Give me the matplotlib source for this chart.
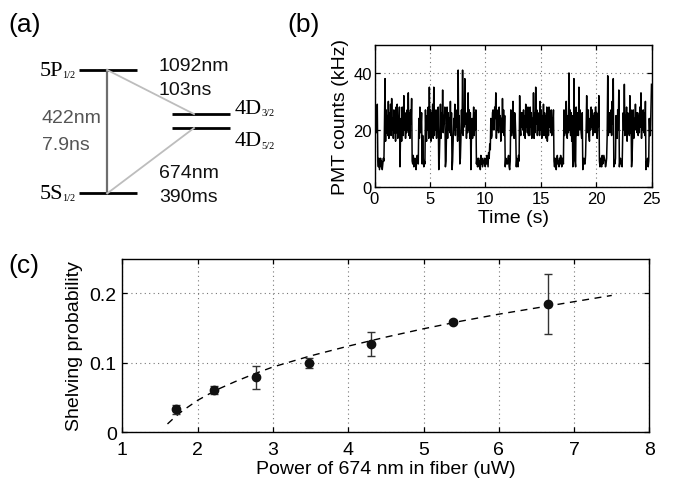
import numpy as np
import matplotlib
matplotlib.use("Agg")
import matplotlib.pyplot as plt

# ---- panel (a): level scheme (energy in arbitrary units) ----
level_names = ["5S", "5P", "4D", "4D"]
level_subs = ["1/2", "1/2", "5/2", "3/2"]
level_energy = [0.0, 1.0, 0.53, 0.643]
level_column = [0, 0, 1, 1]

# ---- panel (b): PMT trace, sampled every 0.05 s (one row per second) ----
trace_dt = 0.05
pmt_counts = [
    17, 27, 21, 26, 19, 29, 9, 7, 10, 6, 8, 10, 7, 9, 6, 8, 10, 9, 22, 38,
    16, 27, 19, 25, 18, 30, 17, 26, 21, 29, 18, 31, 20, 24, 17, 27, 19, 25, 16, 28,
    19, 29, 17, 24, 21, 28, 7, 18, 24, 16, 28, 21, 18, 32, 20, 26, 17, 25, 19, 27,
    20, 33, 18, 26, 17, 27, 22, 31, 9, 8, 11, 7, 9, 10, 8, 6, 9, 11, 10, 8,
    24, 17, 28, 19, 21, 26, 8, 18, 10, 7, 9, 8, 27, 18, 16, 25, 20, 28, 17, 35,
    19, 27, 16, 26, 21, 29, 17, 35, 18, 24, 20, 27, 17, 25, 20, 28, 6, 10, 18, 29,
    17, 26, 21, 34, 19, 25, 22, 28, 7, 9, 18, 28, 17, 26, 20, 24, 19, 30, 18, 26,
    6, 9, 17, 24, 20, 29, 18, 26, 21, 27, 16, 41, 18, 25, 8, 10, 17, 27, 19, 41,
    18, 27, 21, 38, 22, 26, 17, 25, 19, 33, 20, 27, 17, 26, 6, 18, 24, 17, 21, 28,
    18, 26, 20, 27, 8, 10, 7, 9, 10, 7, 9, 6, 11, 8, 10, 7, 8, 9, 10, 8,
    7, 10, 8, 11, 9, 7, 12, 10, 15, 13, 24, 17, 18, 26, 27, 20, 20, 28, 24, 33,
    17, 26, 20, 27, 19, 28, 22, 25, 16, 24, 19, 31, 20, 27, 18, 25, 7, 10, 9, 8,
    8, 10, 11, 7, 6, 9, 27, 18, 18, 25, 30, 19, 17, 26, 24, 18, 7, 10, 9, 7,
    11, 9, 32, 20, 18, 26, 21, 26, 20, 27, 18, 25, 17, 29, 21, 26, 19, 28, 18, 26,
    18, 28, 21, 26, 17, 24, 20, 33, 17, 26, 19, 35, 22, 27, 18, 26, 20, 25, 18, 30,
    20, 27, 17, 25, 19, 29, 18, 26, 19, 25, 17, 28, 16, 24, 18, 28, 21, 26, 19, 27,
    18, 24, 21, 27, 9, 7, 10, 8, 6, 9, 11, 8, 9, 7, 10, 8, 11, 9, 7, 10,
    9, 8, 27, 18, 24, 19, 30, 20, 17, 25, 19, 40, 20, 27, 18, 26, 16, 25, 7, 9,
    38, 19, 9, 7, 28, 18, 21, 26, 18, 35, 20, 27, 25, 19, 17, 26, 6, 9, 10, 8,
    8, 11, 20, 32, 19, 25, 27, 18, 16, 24, 20, 28, 21, 27, 18, 25, 20, 26, 19, 28,
    20, 26, 17, 24, 21, 32, 9, 7, 10, 8, 7, 11, 8, 9, 11, 10, 9, 7, 8, 10,
    18, 39, 18, 25, 26, 19, 20, 27, 18, 30, 22, 38, 7, 9, 8, 10, 25, 18, 17, 27,
    20, 34, 7, 9, 10, 8, 9, 7, 18, 26, 20, 36, 18, 25, 21, 28, 16, 26, 19, 25,
    18, 32, 19, 27, 7, 10, 18, 27, 17, 24, 20, 29, 20, 26, 19, 26, 18, 25, 19, 28,
    21, 33, 17, 25, 20, 27, 19, 26, 18, 30, 6, 9, 8, 10, 7, 9, 24, 18, 18, 27,
    36,
]

# ---- panel (c): shelving probability vs power ----
power = [1.71, 2.22, 2.77, 3.48, 4.30, 5.39, 6.65]
shelving = [0.0335, 0.061, 0.079, 0.0997, 0.127, 0.159, 0.184]
shelving_err = [0.0065, 0.0055, 0.0163, 0.0077, 0.0168, 0.002, 0.0432]
fit_power = [1.6, 1.7, 1.8, 2.0, 2.25, 2.5, 2.75, 3.0, 3.5, 4.0, 4.5, 5.0, 5.5, 6.0, 6.5, 7.0, 7.5]
fit_shelving = [0.012, 0.022, 0.031, 0.046, 0.061, 0.073, 0.084, 0.094, 0.110, 0.124,
                0.137, 0.149, 0.160, 0.170, 0.179, 0.188, 0.197]

plt.rcParams['font.family'] = ['Liberation Sans', 'DejaVu Sans']
plt.rcParams['xtick.direction'] = 'in'
plt.rcParams['ytick.direction'] = 'in'
plt.rcParams['xtick.top'] = True
plt.rcParams['ytick.right'] = True
plt.rcParams['axes.linewidth'] = 1.0

W, H = 676, 485
fig = plt.figure(figsize=(W / 100, H / 100), dpi=100)


def matlab_grid(ax):
    ax.grid(True, linestyle=(0, (1, 3)), color='#777777', linewidth=0.8)
    ax.set_axisbelow(True)
    ax.tick_params(length=3.5, width=0.9)


# ---------------- (a) ----------------
axA = fig.add_axes([0, 0.523, 300 / W, 0.4068])
axA.set_xlim(0, 300)
axA.set_ylim(-0.3, 1.3)
axA.axis('off')
col_x = [(79, 137), (172, 230)]
for name, sub, e, c in zip(level_names, level_subs, level_energy, level_column):
    x0, x1 = col_x[c]
    axA.plot([x0, x1], [e, e], color='black', lw=2.0, solid_capstyle='butt')
E = dict(zip([n + s for n, s in zip(level_names, level_subs)], level_energy))
xv = 107.3
axA.plot([xv, xv], [E["5S1/2"], E["5P1/2"]], color='#6e6e6e', lw=1.6)
axA.plot([xv, 194], [E["5P1/2"], E["4D3/2"]], color='#bdbdbd', lw=1.3)
axA.plot([xv, 194], [E["5S1/2"], E["4D5/2"]], color='#bdbdbd', lw=1.3)

serif = ['Liberation Serif', 'DejaVu Serif']
for lab, e in [("5P", E["5P1/2"]), ("5S", E["5S1/2"])]:
    axA.text(63, e, lab, family=serif, fontsize=16, ha='right', va='center')
    axA.text(62.5, e - 0.035, "1/2", family=serif, fontsize=7.5, ha='left', va='center')
for sub, ty in [("3/2", 0.692), ("5/2", 0.427)]:
    axA.text(235, ty, "4D", family=serif, fontsize=16, ha='left', va='center')
    axA.text(261.5, ty - 0.035, sub, family=serif, fontsize=7.5, ha='left', va='center')

txt_kw = dict(fontsize=14, ha='left', va='center')
axA.text(159, 1.035, "1092nm", color='#111111', **txt_kw)
axA.text(159, 0.846, "103ns", color='#111111', **txt_kw)
axA.text(42, 0.619, "422nm", color='#555555', **txt_kw)
axA.text(42, 0.399, "7.9ns", color='#555555', **txt_kw)
axA.text(159, 0.173, "674nm", color='#111111', **txt_kw)
axA.text(159, -0.022, "390ms", color='#111111', **txt_kw)

# ---------------- (b) ----------------
axB = fig.add_axes([374.5 / W, 1 - 187.7 / H, 277 / W, 142.2 / H])
t = np.arange(len(pmt_counts)) * trace_dt
axB.plot(t, pmt_counts, color='black', lw=1.1)
axB.set_xlim(0, 25)
axB.set_ylim(0, 50)
axB.set_xticks([0, 5, 10, 15, 20, 25])
axB.set_yticks([0, 20, 40])
matlab_grid(axB)
axB.tick_params(labelsize=12)
axB.tick_params(axis='x', pad=3)
axB.tick_params(axis='y', pad=2)
axB.set_xlabel("Time (s)", fontsize=14, labelpad=2)
axB.set_ylabel("PMT counts (kHz)", fontsize=14, labelpad=3)

# ---------------- (c) ----------------
axC = fig.add_axes([122.3 / W, 1 - 433.3 / H, 527.1 / W, 173.7 / H])
axC.plot(fit_power, fit_shelving, color='black', lw=1.0, dashes=(5, 4))
axC.errorbar(power, shelving, yerr=shelving_err, fmt='o', color='#111111', ms=6,
             ecolor='#333333', elinewidth=1.0, capsize=3, capthick=1.0)
axC.set_xlim(1, 8)
axC.set_ylim(0, 0.25)
axC.set_xticks(range(1, 9))
axC.set_yticks([0, 0.1, 0.2])
axC.set_yticklabels(["0", "0.1", "0.2"])
matlab_grid(axC)
axC.tick_params(labelsize=14)
axC.tick_params(axis='x', pad=6)
axC.tick_params(axis='y', pad=4)
axC.set_xlabel("Power of 674 nm in fiber (uW)", fontsize=14, labelpad=2)
axC.set_ylabel("Shelving probability", fontsize=14, labelpad=5)

fig.text(8 / W, 1 - 25 / H, "(a)", fontsize=19, va='center', ha='left')
fig.text(287 / W, 1 - 25 / H, "(b)", fontsize=19, va='center', ha='left')
fig.text(8 / W, 1 - 266 / H, "(c)", fontsize=19, va='center', ha='left')

fig.savefig("out.png", dpi=100)
